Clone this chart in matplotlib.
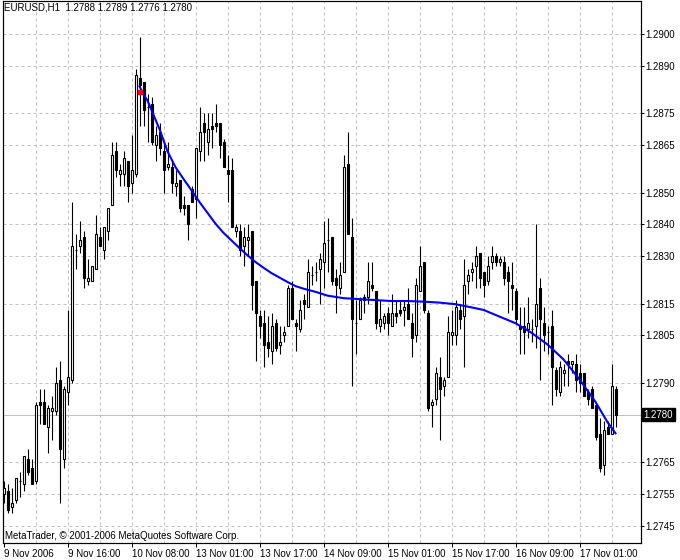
import numpy as np
import matplotlib
matplotlib.use("Agg")
import matplotlib.pyplot as plt
import matplotlib.transforms as mtransforms

plt.rcParams["font.family"] = ["Liberation Sans", "DejaVu Sans"]

# EURUSD H1 quotes, in pips above 1.2700
BASE = 1.2700
opens_pips = [
    55, 56, 51, 53, 59, 58, 66, 63, 59, 84,
    84, 76, 81, 81, 91, 66, 87, 91, 132, 133,
    136, 122, 122, 126, 136, 132, 138, 146, 163, 156,
    156, 160, 153, 156, 186, 185, 177, 178, 165, 169,
    163, 158, 158, 152, 154, 146, 146, 151, 148, 163,
    172, 166, 171, 172, 172, 166, 157, 157, 138, 138,
    133, 135, 138, 122, 111, 109, 103, 100, 109, 102,
    105, 108, 120, 109, 107, 116, 114, 124, 125, 126,
    128, 135, 136, 123, 120, 125, 159, 136, 109, 110,
    117, 117, 121, 119, 108, 109, 112, 108, 112, 113,
    113, 115, 109, 105, 119, 128, 112, 83, 85, 92,
    89, 92, 105, 105, 113, 111, 122, 125, 127, 131,
    125, 122, 128, 130, 128, 128, 125, 121, 119, 108,
    108, 107, 107, 108, 120, 109, 106, 108, 94, 87,
    93, 97, 96, 96, 93, 93, 87, 88, 83, 74,
    64, 76, 74, 88,
]
highs_pips = [
    59, 58, 57, 60, 62, 67, 69, 66, 84, 88,
    88, 83, 86, 95, 97, 89, 113, 147, 137, 141,
    138, 129, 127, 143, 139, 139, 145, 166, 166, 159,
    163, 160, 168, 189, 199, 185, 181, 180, 171, 172,
    166, 166, 160, 157, 154, 149, 146, 152, 164, 177,
    175, 175, 175, 178, 172, 167, 162, 161, 140, 140,
    139, 140, 138, 122, 113, 113, 111, 112, 110, 108,
    108, 121, 122, 110, 116, 118, 129, 127, 128, 131,
    141, 142, 136, 126, 128, 162, 169, 142, 116, 117,
    118, 128, 128, 119, 116, 112, 114, 118, 116, 116,
    116, 120, 112, 123, 133, 128, 113, 85, 95, 98,
    92, 111, 113, 116, 115, 129, 126, 128, 133, 131,
    125, 130, 133, 131, 130, 130, 127, 128, 120, 114,
    114, 117, 110, 140, 123, 114, 108, 113, 95, 97,
    96, 99, 97, 99, 96, 93, 88, 89, 83, 79,
    78, 78, 96, 89,
]
lows_pips = [
    52, 49, 49, 52, 54, 56, 61, 58, 58, 77,
    77, 68, 72, 80, 52, 63, 83, 90, 126, 131,
    120, 121, 122, 126, 133, 129, 135, 146, 155, 152,
    152, 147, 150, 155, 171, 171, 166, 165, 160, 162,
    150, 157, 150, 149, 144, 143, 135, 147, 142, 160,
    160, 162, 164, 169, 161, 158, 147, 139, 136, 130,
    127, 130, 113, 97, 104, 95, 98, 96, 100, 99,
    103, 108, 110, 100, 106, 110, 114, 121, 122, 115,
    120, 125, 121, 112, 118, 125, 137, 89, 99, 110,
    112, 115, 119, 107, 106, 107, 105, 108, 109, 111,
    108, 110, 98, 103, 119, 112, 81, 76, 83, 72,
    86, 92, 102, 102, 107, 95, 118, 122, 120, 120,
    117, 121, 126, 127, 127, 121, 112, 113, 109, 99,
    99, 104, 103, 101, 91, 100, 99, 83, 86, 86,
    89, 89, 93, 87, 87, 86, 83, 82, 72, 62,
    61, 74, 74, 76,
]
closes_pips = [
    57, 50, 52, 60, 59, 67, 62, 58, 83, 83,
    77, 82, 82, 90, 69, 88, 92, 133, 132, 135,
    123, 123, 127, 137, 133, 139, 145, 162, 157, 157,
    161, 152, 157, 187, 184, 176, 177, 166, 168, 164,
    157, 159, 153, 153, 145, 145, 140, 147, 164, 169,
    169, 170, 170, 171, 165, 158, 156, 139, 139, 132,
    136, 136, 121, 112, 108, 102, 101, 108, 101, 103,
    106, 120, 110, 108, 113, 115, 125, 124, 125, 129,
    134, 135, 122, 121, 124, 158, 137, 110, 109, 116,
    116, 122, 120, 109, 110, 111, 109, 112, 111, 112,
    114, 110, 104, 121, 127, 113, 82, 84, 93, 88,
    91, 106, 106, 114, 110, 121, 124, 126, 130, 123,
    121, 127, 130, 128, 129, 123, 122, 120, 110, 107,
    106, 109, 107, 115, 110, 105, 106, 95, 88, 95,
    94, 96, 97, 91, 90, 86, 85, 82, 73, 63,
    75, 74, 89, 80,
]

# smoothed indicator line (bar index, pips above 1.2700)
ma_idx = [34, 35, 36, 37, 38, 39, 41, 43, 45, 47, 49, 51, 53, 55, 57, 59, 61, 63,
          65, 67, 69, 71, 73, 75, 78, 81, 85, 89, 93, 97, 101, 105, 109, 113, 117,
          120, 124, 128, 132, 136, 140, 144, 148, 151, 153]
ma_pips = [183.5, 181, 179, 176, 173, 170, 163, 158, 154.3, 150.7, 147, 143.6,
           140.2, 137.3, 134.9, 132.5, 130.2, 128.1, 126.3, 124.6, 123.2, 121.8,
           120.5, 119.7, 118.7, 117.5, 116.7, 116.4, 116.1, 115.8, 115.8, 115.6,
           115.3, 114.8, 113.8, 113.0, 110.9, 108.8, 105.8, 102.1, 97.4, 91.1,
           84.0, 77.6, 74.1]

# red mark on the bar where the line starts
mark_idx = 34
mark_price = 1.28817

price_ticks = [1.2900, 1.2890, 1.2875, 1.2865, 1.2850, 1.2840, 1.2830,
               1.2815, 1.2805, 1.2790, 1.2765, 1.2755, 1.2745]
time_idx = [0, 16, 32, 48, 64, 80, 96, 112, 128, 144]
time_labels = ["9 Nov 2006", "9 Nov 16:00", "10 Nov 08:00", "13 Nov 01:00",
               "13 Nov 17:00", "14 Nov 09:00", "15 Nov 01:00", "15 Nov 17:00",
               "16 Nov 09:00", "17 Nov 01:00"]

opens = BASE + np.array(opens_pips) / 10000
highs = BASE + np.array(highs_pips) / 10000
lows = BASE + np.array(lows_pips) / 10000
closes = BASE + np.array(closes_pips) / 10000
ma = BASE + np.array(ma_pips) / 10000
x = np.arange(len(opens))

GRID = "#c0c0c0"
PX = 0.72  # one pixel in points at 100 dpi

fig = plt.figure(figsize=(6.8, 5.6), dpi=100)
ax = fig.add_axes([2.5 / 680, 1 - 542.7 / 560, 638.2 / 680, 541.7 / 560])
ax.set_xlim(-0.25, 159.3)
ax.set_ylim(1.27396, 1.29104)

# grid
for p in price_ticks:
    ax.axhline(p, color=GRID, lw=PX, ls=(0, (3, 3)), zorder=0)
for v in range(8, 156, 8):
    ax.axvline(v, color=GRID, lw=PX, ls=(0, (3, 3)), zorder=0)

# last price line
last = closes[-1]
ax.axhline(last, color=GRID, lw=PX, zorder=1)

# candles
ax.vlines(x, lows, highs, colors="black", lw=PX * 1.1, zorder=2)
bull = closes >= opens
ax.bar(x, np.abs(closes - opens), bottom=np.minimum(opens, closes), width=0.5,
       color=np.where(bull, "white", "black"), edgecolor="black",
       linewidth=PX * 1.1, zorder=3)

ax.plot(ma_idx, ma, color="#0000ff", lw=1.5, zorder=4)
ax.plot([mark_idx], [mark_price], marker="s", ms=3, color="red", mec="red", zorder=5)

# axes cosmetics
for s in ax.spines.values():
    s.set_linewidth(PX * 1.2)
ax.yaxis.tick_right()
ax.set_yticks(price_ticks)
ax.set_yticklabels([f"{p:.4f}" for p in price_ticks])
ax.tick_params(axis="y", direction="out", length=2, width=PX, pad=1.2, labelsize=7)
ax.set_xticks(time_idx)
ax.set_xticklabels(time_labels)
ax.tick_params(axis="x", direction="out", length=3, width=PX, pad=1.5, labelsize=7)
for lbl in ax.get_xticklabels():
    lbl.set_horizontalalignment("left")

# current price box
box_tr = mtransforms.blended_transform_factory(ax.transAxes, ax.transData)
box_tr = box_tr + mtransforms.ScaledTranslation(3 / 100, 0, fig.dpi_scale_trans)
ax.text(1.0, last, f"{last:.4f}", transform=box_tr, ha="left", va="center",
        fontsize=7, color="white",
        bbox=dict(boxstyle="square,pad=0.18", fc="black", ec="black"))

# header and footer
ax.text(0.003, 0.997, f"EURUSD,H1  {opens[-1]:.4f} {highs[-1]:.4f} {lows[-1]:.4f} {last:.4f}",
        transform=ax.transAxes, ha="left", va="top", fontsize=7)
ax.text(0.004, 0.012, "MetaTrader, © 2001-2006 MetaQuotes Software Corp.",
        transform=ax.transAxes, ha="left", va="center", fontsize=7)

fig.savefig("out.png", dpi=100, facecolor="white")
